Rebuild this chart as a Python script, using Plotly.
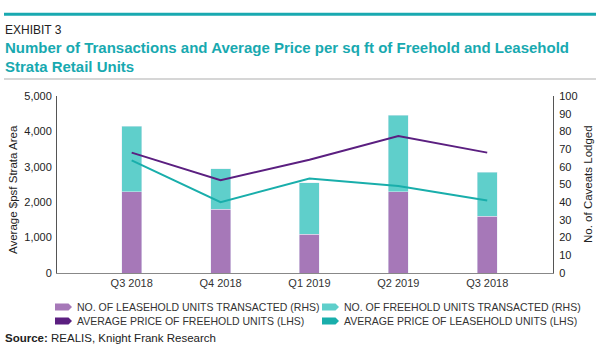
import plotly.graph_objects as go

# ---- data ----
quarters = ["Q3 2018", "Q4 2018", "Q1 2019", "Q2 2019", "Q3 2018"]
leasehold_units = [46, 36, 22, 46, 32]
freehold_units = [37, 23, 29, 43, 25]
freehold_price = [3400, 2620, 3200, 3870, 3400]
leasehold_price = [3180, 2000, 2670, 2460, 2050]
left_ticks = [0, 1000, 2000, 3000, 4000, 5000]
right_ticks = list(range(0, 101, 10))

# ---- style ----
W, H = 600, 360
L, R, T, B = 57, 553, 96, 273
FONT = "Liberation Sans, Arial, Helvetica, sans-serif"
C_LEASE_BAR = "#a678b8"
C_FREE_BAR = "#5fcfcb"
C_FREE_LINE = "#5b1f80"
C_LEASE_LINE = "#19aeab"
C_TITLE = "#18a9b0"


def px(x):
    return (x - L) / (R - L)


def py(y):
    return (B - y) / (B - T)


xs = list(range(len(quarters)))

fig = go.Figure()
fig.add_trace(go.Bar(x=xs, y=leasehold_units, marker_color=C_LEASE_BAR, width=0.225,
                     name="NO. OF LEASEHOLD UNITS TRANSACTED (RHS)", yaxis="y"))
fig.add_trace(go.Bar(x=xs, y=freehold_units, marker_color=C_FREE_BAR, width=0.225,
                     name="NO. OF FREEHOLD UNITS TRANSACTED (RHS)", yaxis="y"))
fig.add_trace(go.Scatter(x=xs, y=freehold_price, mode="lines", line=dict(color=C_FREE_LINE, width=2),
                         name="AVERAGE PRICE OF FREEHOLD UNITS (LHS)", yaxis="y2"))
fig.add_trace(go.Scatter(x=xs, y=leasehold_price, mode="lines", line=dict(color=C_LEASE_LINE, width=2),
                         name="AVERAGE PRICE OF LEASEHOLD UNITS (LHS)", yaxis="y2"))

fig.update_layout(
    width=W, height=H, barmode="stack", showlegend=False,
    paper_bgcolor="white", plot_bgcolor="white",
    margin=dict(l=L, r=W - R, t=T, b=H - B),
    font=dict(family=FONT, size=11, color="#222"),
    xaxis=dict(range=[-0.84, 4.74], tickvals=xs, ticktext=quarters, showgrid=False,
               showline=True, linecolor="#888", linewidth=1, ticks="", zeroline=False,
               tickfont=dict(size=11, color="#333"), automargin=False),
    yaxis=dict(side="right", range=[0, 100], tickvals=right_ticks, showgrid=False,
               showline=True, linecolor="#555", linewidth=1, ticks="", zeroline=False,
               tickfont=dict(size=11, color="#222"), ticklabelstandoff=3, automargin=False),
    yaxis2=dict(side="left", overlaying="y", range=[0, 5000], tickvals=left_ticks, tickformat=",",
                showgrid=False, showline=True, linecolor="#555", linewidth=1, ticks="", zeroline=False,
                tickfont=dict(size=11, color="#222"), ticklabelstandoff=2, automargin=False),
)

shapes = []
# top teal rule and grey rule
shapes.append(dict(type="line", xref="paper", yref="paper", x0=px(4), x1=px(596), y0=py(14.2), y1=py(14.2),
                   line=dict(color=C_TITLE, width=3)))
shapes.append(dict(type="line", xref="paper", yref="paper", x0=px(4), x1=px(596), y0=py(79), y1=py(79),
                   line=dict(color="#c8c8c8", width=1.5)))

ann = []
ann.append(dict(text="EXHIBIT 3", x=px(3), y=py(29.5), xref="paper", yref="paper", xanchor="left",
                yanchor="middle", showarrow=False, font=dict(size=12, color="#222")))
ann.append(dict(text="<b>Number of Transactions and Average Price per sq ft of Freehold and Leasehold</b>",
                x=px(3), y=py(47.5), xref="paper", yref="paper", xanchor="left", yanchor="middle",
                showarrow=False, font=dict(size=15, color=C_TITLE)))
ann.append(dict(text="<b>Strata Retail Units</b>", x=px(3), y=py(66.5), xref="paper", yref="paper",
                xanchor="left", yanchor="middle", showarrow=False, font=dict(size=15, color=C_TITLE)))
ann.append(dict(text="<b>Source:</b> REALIS, Knight Frank Research", x=px(3), y=py(337.5), xref="paper",
                yref="paper", xanchor="left", yanchor="middle", showarrow=False,
                font=dict(size=11.5, color="#222")))
# axis titles
ann.append(dict(text="Average $psf Strata Area", x=px(13), y=py(190), xref="paper", yref="paper",
                xanchor="center", yanchor="middle", textangle=-90, showarrow=False,
                font=dict(size=11.5, color="#222")))
ann.append(dict(text="No. of Caveats Lodged", x=px(588), y=py(184), xref="paper", yref="paper",
                xanchor="center", yanchor="middle", textangle=-90, showarrow=False,
                font=dict(size=11.5, color="#222")))

legend_items = [
    ("NO. OF LEASEHOLD UNITS TRANSACTED (RHS)", C_LEASE_BAR, 55, 307),
    ("AVERAGE PRICE OF FREEHOLD UNITS (LHS)", C_FREE_LINE, 55, 321),
    ("NO. OF FREEHOLD UNITS TRANSACTED (RHS)", C_FREE_BAR, 322, 307),
    ("AVERAGE PRICE OF LEASEHOLD UNITS (LHS)", C_LEASE_LINE, 322, 321),
]
for text, col, x0, yc in legend_items:
    x1 = x0 + 17
    pts = [(x0, yc - 3.5), (x1 - 3.5, yc - 3.5), (x1, yc), (x1 - 3.5, yc + 3.5), (x0, yc + 3.5)]
    path = "M " + " L ".join(f"{px(a):.5f},{py(b):.5f}" for a, b in pts) + " Z"
    shapes.append(dict(type="path", xref="paper", yref="paper", path=path, fillcolor=col,
                       line=dict(width=0)))
    ann.append(dict(text=text, x=px(x0 + 20), y=py(yc), xref="paper", yref="paper", xanchor="left",
                    yanchor="middle", showarrow=False, font=dict(size=10.5, color="#333")))

fig.update_layout(shapes=shapes, annotations=ann)
fig.write_html("out.html", config={"displayModeBar": False},
               post_script="document.body.style.margin='0';")
